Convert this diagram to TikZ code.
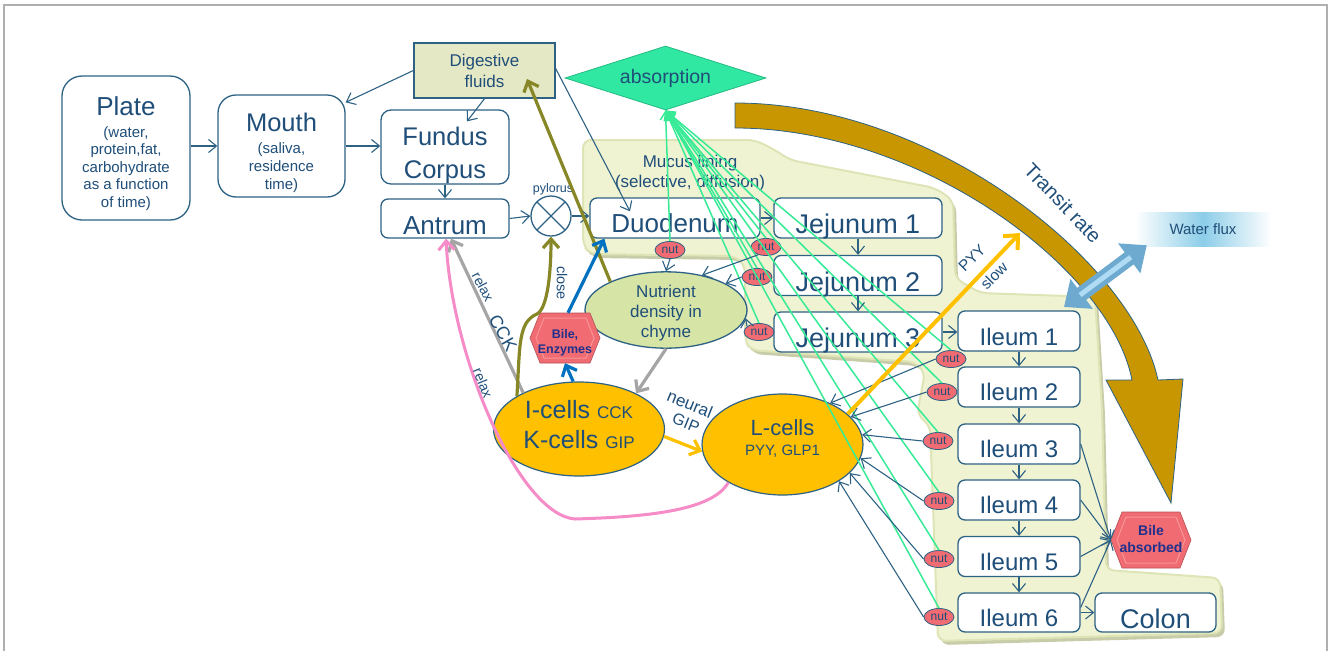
\documentclass[tikz,border=0pt]{standalone}
\usepackage{fontspec}
\setmainfont{Liberation Sans}
\usetikzlibrary{arrows.meta,shapes.geometric}
\definecolor{txt}{RGB}{31,78,121}
\definecolor{bord}{RGB}{45,98,132}
\definecolor{dffill}{RGB}{229,232,196}
\definecolor{mucus}{RGB}{240,243,210}
\definecolor{mucusedge}{RGB}{222,228,182}
\definecolor{mshadow}{RGB}{200,204,168}
\definecolor{mint}{RGB}{48,232,162}
\definecolor{mintline}{RGB}{55,235,150}
\definecolor{ndfill}{RGB}{214,228,165}
\definecolor{goldc}{RGB}{255,192,0}
\definecolor{salmon}{RGB}{240,108,114}
\definecolor{salmonhi}{RGB}{248,150,150}
\definecolor{navyc}{RGB}{32,48,140}
\definecolor{olivec}{RGB}{135,135,40}
\definecolor{bblue}{RGB}{0,112,192}
\definecolor{ggray}{RGB}{165,165,165}
\definecolor{pinkc}{RGB}{245,140,200}
\definecolor{brownarr}{RGB}{200,150,0}
\definecolor{wfblue}{RGB}{140,205,232}
\definecolor{wfarrow}{RGB}{110,170,208}
\definecolor{wfhi}{RGB}{175,220,244}
\definecolor{framec}{RGB}{175,175,175}
\newcommand\fsz[2]{\fontsize{#1}{#2}\selectfont}
\newcommand\mucuspath{(583,140) -- (755,140) -- (775,150) -- (790,160) -- (935,188) -- (953,200) -- (955,278) -- (980,293) -- (1095,297) -- (1102,410) -- (1106,570) -- (1220,578) -- (1222,633) -- (938,641) -- (930,425) -- (917,415) -- (925,372) -- (915,362) -- (750,350) -- (745,340) -- (745,265) -- (735,256) -- (590,254) -- (583,245) -- cycle}
\tikzset{
 box/.style={draw=bord, line width=1.3pt, fill=white, rounded corners=7pt, text=txt, inner sep=0pt, align=center, text depth=0pt},
 arr/.style={draw=bord, line width=1.1pt, -{Straight Barb[length=8pt,width=13pt]}},
 nutn/.style={ellipse, draw=bord, line width=0.8pt, fill=salmon, inner sep=0pt, minimum width=30pt, minimum height=17pt, text=txt, font=\fsz{12}{12}},
 gline/.style={draw=mintline, line width=1.5pt, -{Straight Barb[length=8pt,width=11pt]}},
 lbl/.style={text=txt, inner sep=0pt},
 fat/.style={line width=3.2pt, -{Straight Barb[length=9pt,width=16pt]}},
 hexfill/.style={fill=salmon, draw=salmon!75!black, line width=0.6pt},
 hexhi/.style={draw=salmonhi, line width=1pt},
}
\begin{document}
\begin{tikzpicture}[x=1pt,y=-1pt]
\useasboundingbox (0,0) rectangle (1328,651);
\draw[draw=framec, line width=1.2pt] (4,651) -- (4,5) -- (1327,5) -- (1327,651);

% mucus lining region
\begin{scope}[shift={(3,4)}]
\fill[mshadow, rounded corners=8pt] \mucuspath;
\end{scope}
\filldraw[fill=mucus, draw=mucusedge, line width=2pt, rounded corners=8pt] \mucuspath;

% transit rate arrow
\filldraw[fill=brownarr, draw=bord, line width=0.8pt] (735,103) .. controls (935,103) and (1133,263) .. (1158,380) -- (1183,379) -- (1171,503) -- (1106,380) -- (1132,380) .. controls (1110,268) and (920,128) .. (735,128) -- cycle;

% water flux
\node[shade, left color=white, right color=white, middle color=wfblue, minimum width=136pt, minimum height=34pt, inner sep=0pt, text=txt, font=\fsz{15}{18}] (wf) at (1203,229) {Water flux};
\coordinate (wfa) at (1064,307);
\draw[line width=15pt, draw=wfarrow, {Triangle[length=22pt,width=36pt]}-{Triangle[length=22pt,width=36pt]}] (wfa) -- ([xshift=12pt,yshift=1pt]wf.south west);
\draw[line width=5pt, draw=wfhi, shorten <=20pt, shorten >=20pt] (wfa) -- ([xshift=12pt,yshift=1pt]wf.south west);

% main nodes
\node[box, rounded corners=20pt, minimum width=128pt, minimum height=144pt, font=\fsz{15}{17.5}, text height=118pt] (plate) at (126,148) {{\fsz{26}{26}Plate}\\[4.5pt](water,\\protein,fat,\\carbohydrate\\as a function\\of time)};
\node[box, rounded corners=18pt, minimum width=127pt, minimum height=102pt, font=\fsz{15}{17.8}, text height=86pt] (mouth) at (281.5,146) {{\fsz{25.5}{25.5}Mouth}\\[4pt](saliva,\\residence\\time)};
\node[draw=bord, line width=1.3pt, fill=dffill, minimum width=141pt, minimum height=55pt, inner sep=0pt, align=center, text=txt, font=\fsz{17}{21}, text height=33pt, text depth=0pt] (df) at (484.5,70.5) {Digestive\\fluids};
\node[box, rounded corners=10pt, minimum width=128pt, minimum height=74pt, font=\fsz{25.5}{33}, text height=62pt] (fun) at (445,147) {Fundus\\Corpus};
\node[box, minimum width=128pt, minimum height=39pt, font=\fsz{26}{26}, text height=32pt] (ant) at (445,218.5) {Antrum};
\node[circle, draw=bord, line width=1.3pt, fill=white, minimum size=40pt, inner sep=0pt, path picture={\draw[bord, line width=1.3pt] (path picture bounding box.north west) -- (path picture bounding box.south east) (path picture bounding box.north east) -- (path picture bounding box.south west);}] (pyl) at (551,216) {};
\node[lbl, font=\fsz{12.5}{12.5}] (pyll) at (553,189) {pylorus};
\node[diamond, aspect=3.1, fill=mint, draw=mint!80!black, line width=0.8pt, minimum width=201pt, minimum height=64pt, inner sep=0pt, text=txt, font=\fsz{19.5}{19.5}, text height=10pt, text depth=0pt] (abs) at (665.5,78) {absorption};
\node[lbl, align=center, font=\fsz{17}{19.5}, text height=19pt, text depth=0pt] (mucl) at (690,177.5) {Mucus lining\\(selective, diffusion)};

\node[box, minimum width=170pt, minimum height=40pt, font=\fsz{26}{26}, text height=28pt] (duo) at (675,218) {Duodenum};
\node[box, minimum width=168pt, minimum height=40pt, font=\fsz{27}{27}, text height=31pt] (j1) at (858,218) {Jejunum 1};
\node[box, minimum width=168pt, minimum height=40pt, font=\fsz{27}{27}, text height=31pt] (j2) at (858,275.5) {Jejunum 2};
\node[box, minimum width=168pt, minimum height=40pt, font=\fsz{27}{27}, text height=31pt] (j3) at (858,332) {Jejunum 3};
\node[box, minimum width=122pt, minimum height=40pt, font=\fsz{24}{24}, text height=28pt] (il1) at (1019,331) {Ileum 1};
\node[box, minimum width=122pt, minimum height=40pt, font=\fsz{24}{24}, text height=27pt] (il2) at (1019,387) {Ileum 2};
\node[box, minimum width=122pt, minimum height=40pt, font=\fsz{24}{24}, text height=27pt] (il3) at (1019,444) {Ileum 3};
\node[box, minimum width=122pt, minimum height=40pt, font=\fsz{24}{24}, text height=27pt] (il4) at (1019,500) {Ileum 4};
\node[box, minimum width=122pt, minimum height=40pt, font=\fsz{24}{24}, text height=27pt] (il5) at (1019,556.5) {Ileum 5};
\node[box, minimum width=122pt, minimum height=39pt, font=\fsz{24}{24}, text height=27pt] (il6) at (1019,612.5) {Ileum 6};
\node[box, minimum width=121pt, minimum height=39pt, font=\fsz{27}{27}, text height=31pt] (colon) at (1155.5,612.5) {Colon};

\node[ellipse, draw=bord, line width=1.3pt, fill=ndfill, minimum width=162pt, minimum height=76pt, inner sep=0pt, align=center, text=txt, font=\fsz{17}{20}, text height=54pt, text depth=0pt] (nd) at (666,310) {Nutrient\\density in\\chyme};
\node[ellipse, draw=bord, line width=1.2pt, fill=goldc, minimum width=171pt, minimum height=94pt, inner sep=0pt, align=center, text=txt, font=\fsz{25}{30}, text height=38pt, text depth=0pt] (ic) at (579,429) {I-cells {\fsz{17}{17}CCK}\\K-cells {\fsz{17}{17}GIP}};
\node[ellipse, draw=bord, line width=1.2pt, fill=goldc, minimum width=161pt, minimum height=101pt, inner sep=0pt, align=center, text=txt, font=\fsz{22}{20}, text height=21pt, text depth=0pt] (lc) at (782.5,444.5) {L-cells\\{\fsz{15}{15}PYY, GLP1}};

% hexagons
\coordinate (bilec) at (565,338);
\filldraw[hexfill] ([xshift=-35pt]bilec) -- ([xshift=-25pt,yshift=25pt]bilec) -- ([xshift=25pt,yshift=25pt]bilec) -- ([xshift=35pt]bilec) -- ([xshift=25pt,yshift=-25pt]bilec) -- ([xshift=-25pt,yshift=-25pt]bilec) -- cycle;
\draw[hexhi] ([xshift=-29pt]bilec) -- ([xshift=-21pt,yshift=20pt]bilec) -- ([xshift=21pt,yshift=20pt]bilec) -- ([xshift=29pt]bilec) -- ([xshift=21pt,yshift=-20pt]bilec) -- ([xshift=-21pt,yshift=-20pt]bilec) -- cycle;
\node[text=navyc, font=\bfseries\fsz{12.5}{15}, align=center, minimum width=70pt, minimum height=50pt, inner sep=0pt, text height=30pt, text depth=0pt] (bile) at (bilec) {Bile,\\Enzymes};
\coordinate (bac) at (1151,540);
\filldraw[hexfill] ([xshift=-40pt]bac) -- ([xshift=-29pt,yshift=28pt]bac) -- ([xshift=29pt,yshift=28pt]bac) -- ([xshift=40pt]bac) -- ([xshift=29pt,yshift=-28pt]bac) -- ([xshift=-29pt,yshift=-28pt]bac) -- cycle;
\draw[hexhi] ([xshift=-34pt]bac) -- ([xshift=-25pt,yshift=23pt]bac) -- ([xshift=25pt,yshift=23pt]bac) -- ([xshift=34pt]bac) -- ([xshift=25pt,yshift=-23pt]bac) -- ([xshift=-25pt,yshift=-23pt]bac) -- cycle;
\node[text=navyc, font=\bfseries\fsz{14}{17}, align=center, minimum width=80pt, minimum height=56pt, inner sep=0pt, text height=24pt, text depth=0pt] (ba) at (bac) {Bile\\absorbed};

% nut nodes
\node[nutn] (n1) at (670,250) {nut};
\node[nutn] (n2) at (766,247) {nut};
\node[nutn] (n3) at (757,277) {nut};
\node[nutn] (n4) at (759,332) {nut};
\node[nutn] (n5) at (951,359) {nut};
\node[nutn] (n6) at (942,392) {nut};
\node[nutn] (n7) at (938,441) {nut};
\node[nutn] (n8) at (939,501) {nut};
\node[nutn] (n9) at (939,559) {nut};
\node[nutn] (n10) at (939,617) {nut};

% green absorption lines
\foreach \n in {n1,n2,n3,n4,n5,n6,n7,n8,n9,n10}
  \draw[gline] (\n.north) -- (abs.south);

% thin flow arrows
\draw[arr] (plate.east |- mouth.west) -- (mouth.west);
\draw[arr] (mouth.east) -- (mouth.east -| fun.west);
\draw[arr] (fun.south) -- (ant.north);
\draw[arr] (ant.east) -- (pyl.west);
\draw[arr] (pyl.east) -- (pyl.east -| duo.west);
\draw[arr] (df.west) -- ([yshift=-8pt]mouth.north east);
\draw[arr] (df.south) -- ([xshift=22pt,yshift=-12pt]fun.north);
\draw[arr] ([yshift=2pt]df.east) -- ([xshift=-45pt,yshift=-14pt]duo.north);
\draw[arr] (duo.east) -- (j1.west);
\draw[arr] (j1.south) -- (j2.north);
\draw[arr] (j2.south) -- (j3.north);
\draw[arr] (j3.east) -- (j3.east -| il1.west);
\draw[arr] (il1.south) -- (il2.north);
\draw[arr] (il2.south) -- (il3.north);
\draw[arr] (il3.south) -- (il4.north);
\draw[arr] (il4.south) -- (il5.north);
\draw[arr] (il5.south) -- (il6.north);
\draw[arr] (il6.east) -- (il6.east -| colon.west);
\draw[arr] (il3.east) -- (ba.west);
\draw[arr] (il4.east) -- (ba.west);
\draw[arr] (il5.east) -- (ba.west);
\draw[arr] ([yshift=5pt]il6.east) -- (ba.west);

% nut arrows
\draw[arr] (n1.south) -- (nd.north);
\draw[arr] (n2.225) -- (nd.44);
\draw[arr] (n3.west) -- (nd.24);
\draw[arr] (n4.155) -- (nd.-6);
\draw[arr] (n5.west) -- (lc.41);
\draw[arr] (n6.west) -- (lc.22);
\draw[arr] (n7.west) -- (lc.7);
\draw[arr] (n8.west) -- (lc.-10);
\draw[arr] (n9.west) -- (lc.-23);
\draw[arr] (n10.west) -- (lc.-33);

% coloured arrows
\coordinate (dfin) at (527,79);
\coordinate (pyytip) at (1020,233);
\draw[draw=ggray, fat] (nd.south) -- (ic.32);
\draw[draw=ggray, fat] (ic.147) -- ([xshift=6pt]ant.south);
\draw[draw=olivec, fat] (ic.152) .. controls (520,345) and (518,322) .. (537,314) .. controls (548,308) and (551,270) .. (pyl.south);
\draw[draw=olivec, fat] (nd.153) -- (dfin);
\draw[draw=bblue, fat] (ic.97) -- (bile.south);
\draw[draw=bblue, fat] ([xshift=3pt]bile.north) -- ([xshift=15pt]duo.south west);
\draw[draw=pinkc, line width=3pt, -{Straight Barb[length=9pt,width=16pt]}] (lc.215) .. controls (712,512) and (640,517) .. (575,519) .. controls (520,515) and (452,360) .. ([xshift=1pt]ant.south);
\draw[draw=goldc, fat] (ic.-5) -- (lc.185);
\draw[draw=goldc, line width=4pt, -{Straight Barb[length=11pt,width=20pt]}] (lc.25) -- (pyytip);

% labels
\node[lbl, rotate=-62, font=\fsz{14}{14}] (lrelaxa) at (483,287) {relax};
\node[lbl, rotate=-60, font=\fsz{18}{18}] (lcck) at (503,333) {CCK};
\node[lbl, rotate=-68, font=\fsz{14}{14}] (lrelaxb) at (483,383) {relax};
\node[lbl, rotate=-90, font=\fsz{14.5}{14.5}] (lclose) at (562,283) {close};
\node[lbl, rotate=-22, font=\fsz{17}{17}] (lneural) at (690,404) {neural};
\node[lbl, rotate=-22, font=\fsz{16}{16}] (lgip) at (686,423) {GIP};
\node[lbl, rotate=45, font=\fsz{15.5}{15.5}] (lpyy) at (972,258) {PYY};
\node[lbl, rotate=45, font=\fsz{15.5}{15.5}] (lslow) at (994,276) {slow};
\node[lbl, rotate=-46, font=\fsz{20}{20}] (ltransit) at (1063,203) {Transit rate};
\end{tikzpicture}
\end{document}
